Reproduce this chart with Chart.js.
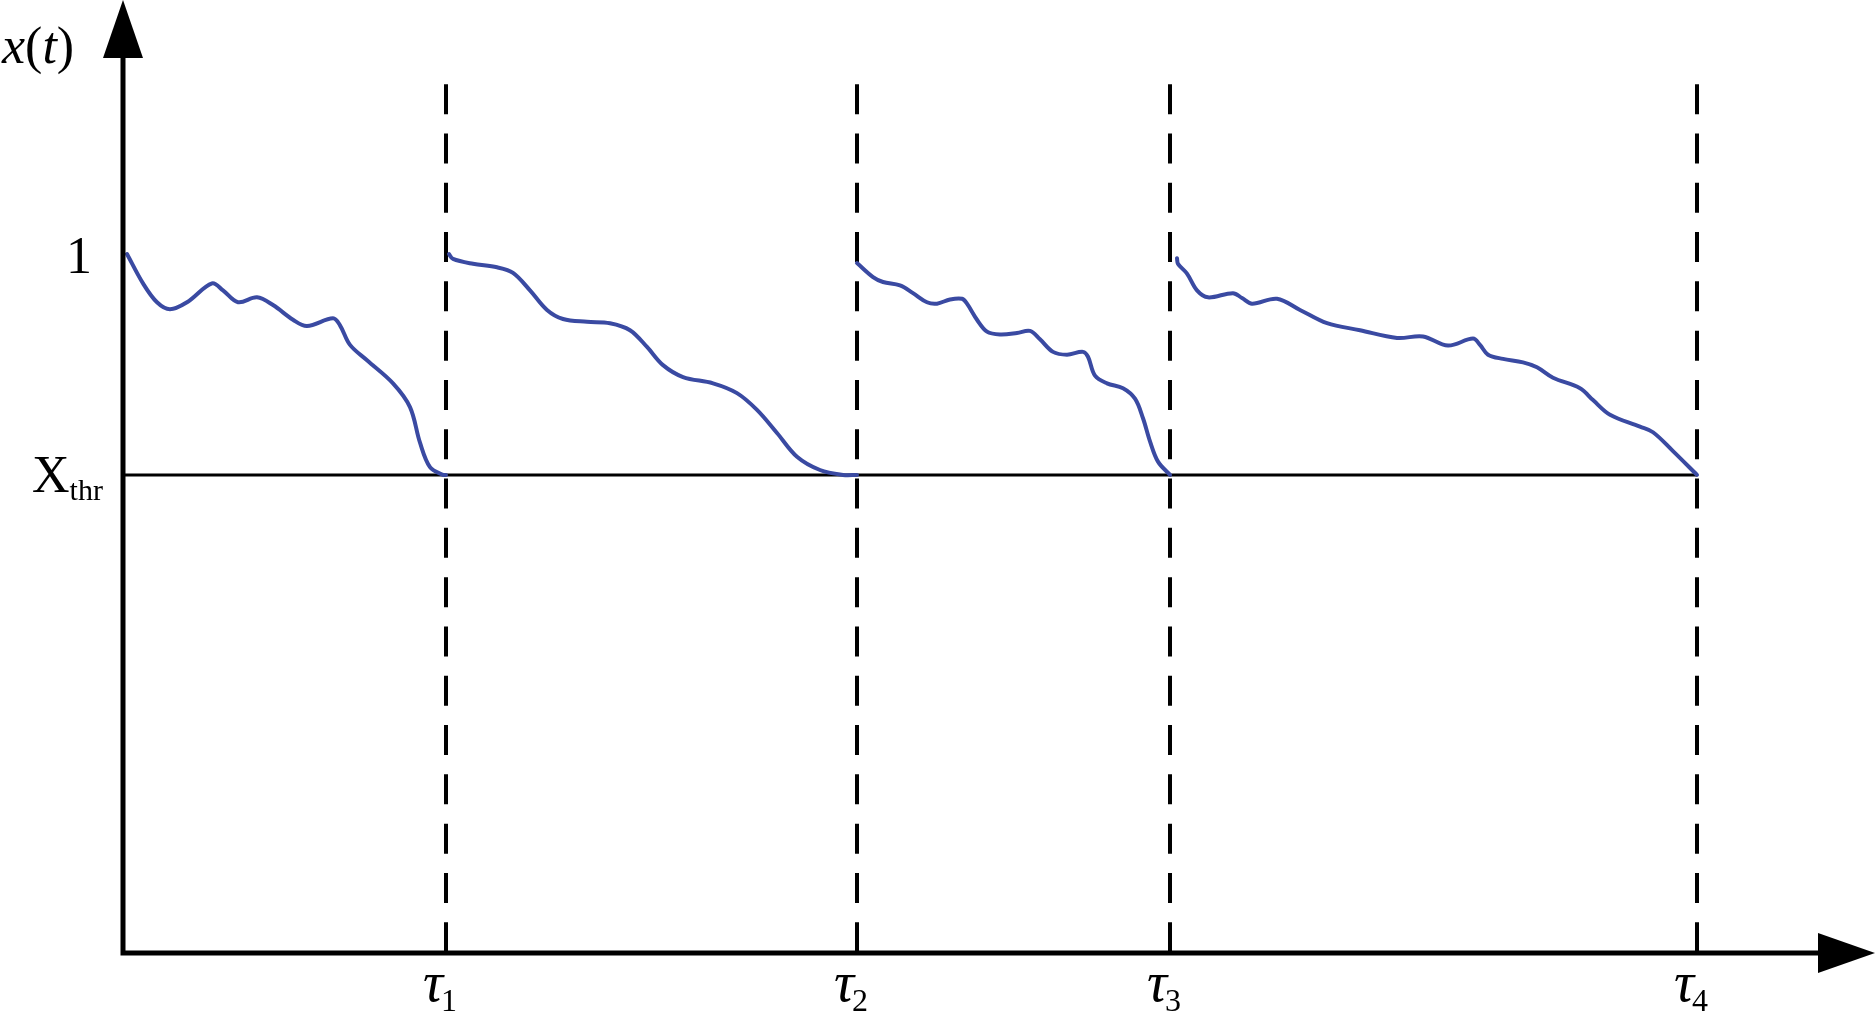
<!DOCTYPE html>
<html>
<head>
<meta charset="utf-8">
<script src="https://cdn.jsdelivr.net/npm/chart.js@4"></script>
<style>
  html, body { margin: 0; padding: 0; background: #fff; overflow: hidden; }
  #chart { display: block; }
</style>
</head>
<body>
<canvas id="chart" width="1876" height="1014"></canvas>
<script>
// Zeitpunkte tau_i, an denen x(t) die Schwelle erreicht
const tau = [3.23, 7.34, 10.47, 15.74];
const tauLabels = ["1", "2", "3", "4"];
const xThr = 0.684;   // Schwelle X_thr
const xOne = 1;       // Markierung "1"
const dashTop = 1.243;
const tMax = 17.5;
const xMax = 1.3634;

// Kurvenabschnitte (Zeit / Wert)
const seg1Time  = [0.04, 0.20, 0.34, 0.47, 0.64, 0.89, 1.00, 1.15, 1.34, 1.50, 1.70, 1.84, 2.10, 2.17, 2.27, 2.44, 2.70, 2.87, 2.97, 3.07, 3.20, 3.23];
const seg1Value = [1.000, 0.958, 0.931, 0.921, 0.931, 0.958, 0.948, 0.931, 0.938, 0.927, 0.906, 0.897, 0.908, 0.898, 0.870, 0.848, 0.815, 0.781, 0.730, 0.695, 0.684, 0.684];

const seg2Time  = [3.26, 3.30, 3.50, 3.74, 3.90, 4.07, 4.24, 4.40, 4.64, 4.87, 5.07, 5.24, 5.40, 5.60, 5.90, 6.14, 6.34, 6.54, 6.74, 6.97, 7.20, 7.34];
const seg2Value = [1.000, 0.993, 0.986, 0.981, 0.973, 0.948, 0.920, 0.907, 0.903, 0.901, 0.891, 0.867, 0.841, 0.824, 0.815, 0.801, 0.777, 0.744, 0.710, 0.691, 0.684, 0.684];

const seg3Time  = [7.34, 7.50, 7.60, 7.77, 7.90, 8.04, 8.14, 8.27, 8.39, 8.44, 8.54, 8.64, 8.77, 8.94, 9.07, 9.17, 9.30, 9.44, 9.60, 9.65, 9.72, 9.84, 10.00, 10.12, 10.20, 10.27, 10.35, 10.47];
const seg3Value = [0.987, 0.967, 0.960, 0.955, 0.944, 0.931, 0.929, 0.935, 0.936, 0.929, 0.906, 0.889, 0.885, 0.887, 0.890, 0.878, 0.860, 0.856, 0.860, 0.853, 0.826, 0.815, 0.808, 0.793, 0.765, 0.732, 0.703, 0.684];

const seg4Time  = [10.54, 10.55, 10.64, 10.74, 10.85, 11.10, 11.19, 11.29, 11.54, 11.77, 12.04, 12.37, 12.74, 13.00, 13.25, 13.50, 13.57, 13.65, 13.80, 14.00, 14.14, 14.30, 14.57, 14.70, 14.87, 15.17, 15.30, 15.50, 15.74];
const seg4Value = [0.994, 0.986, 0.972, 0.948, 0.938, 0.944, 0.937, 0.929, 0.936, 0.920, 0.901, 0.891, 0.880, 0.882, 0.869, 0.879, 0.870, 0.856, 0.850, 0.845, 0.838, 0.823, 0.808, 0.791, 0.770, 0.753, 0.745, 0.718, 0.684];

const curveColor = "#3a4aa2";
const serif = '"Liberation Serif", "DejaVu Serif", serif';

function toPoints(times, values) {
    return times.map((t, i) => ({ x: t, y: values[i] }));
}

function curveDataset(times, values) {
    return {
        data: toPoints(times, values),
        borderColor: curveColor,
        borderWidth: 4,
        pointRadius: 0,
        tension: 0.35,
        borderCapStyle: "round",
        borderJoinStyle: "round",
        order: 1
    };
}

const datasets = [];

// Schwellenlinie X_thr bis tau_4
datasets.push({
    data: [{ x: 0, y: xThr }, { x: tau[tau.length - 1], y: xThr }],
    borderColor: "#000",
    borderWidth: 3,
    pointRadius: 0,
    order: 3
});

// gestrichelte Senkrechten bei tau_i
tau.forEach(t => {
    datasets.push({
        data: [{ x: t, y: dashTop }, { x: t, y: 0 }],
        borderColor: "#000",
        borderWidth: 4,
        borderDash: [30, 19.3],
        pointRadius: 0,
        order: 2
    });
});

datasets.push(curveDataset(seg1Time, seg1Value));
datasets.push(curveDataset(seg2Time, seg2Value));
datasets.push(curveDataset(seg3Time, seg3Value));
datasets.push(curveDataset(seg4Time, seg4Value));

// Achsen mit Pfeilen und Beschriftungen selbst zeichnen
const axesPlugin = {
    id: "axesPlugin",
    afterDatasetsDraw(chart) {
        const ctx = chart.ctx;
        const xs = chart.scales.x;
        const ys = chart.scales.y;
        const area = chart.chartArea;
        const x0 = xs.getPixelForValue(0);
        const y0 = ys.getPixelForValue(0);

        ctx.save();
        ctx.strokeStyle = "#000";
        ctx.fillStyle = "#000";
        ctx.lineWidth = 5;
        ctx.lineCap = "butt";

        ctx.beginPath();
        ctx.moveTo(x0, area.top + 40);
        ctx.lineTo(x0, y0 + 2.5);
        ctx.moveTo(x0 - 2.5, y0);
        ctx.lineTo(area.right - 40, y0);
        ctx.stroke();

        // Pfeilspitze oben
        ctx.beginPath();
        ctx.moveTo(x0, area.top);
        ctx.lineTo(x0 - 20, area.top + 58);
        ctx.lineTo(x0 + 20, area.top + 58);
        ctx.closePath();
        ctx.fill();

        // Pfeilspitze rechts
        ctx.beginPath();
        ctx.moveTo(area.right + 2, y0);
        ctx.lineTo(area.right - 55, y0 - 20);
        ctx.lineTo(area.right - 55, y0 + 20);
        ctx.closePath();
        ctx.fill();

        // Beschriftungen
        ctx.textBaseline = "alphabetic";
        ctx.textAlign = "left";

        // x(t)
        let px = 2;
        const parts = [["x", "italic "], ["(", ""], ["t", "italic "], [")", ""]];
        parts.forEach(p => {
            ctx.font = p[1] + "52px " + serif;
            ctx.fillText(p[0], px, 63);
            px += ctx.measureText(p[0]).width;
        });

        // 1
        ctx.font = "52px " + serif;
        ctx.fillText("1", 66, ys.getPixelForValue(xOne) + 19);

        // X_thr
        const yThr = ys.getPixelForValue(xThr);
        ctx.font = "52px " + serif;
        ctx.fillText("X", 32, yThr + 17);
        const wX = ctx.measureText("X").width;
        ctx.font = "30px " + serif;
        ctx.fillText("thr", 32 + wX, yThr + 25);

        // tau_i
        tau.forEach((t, i) => {
            const tx = xs.getPixelForValue(t) - 23;
            ctx.font = "italic 56px " + serif;
            ctx.fillText("\u03C4", tx, 1001);
            const w = ctx.measureText("\u03C4").width;
            ctx.font = "32px " + serif;
            ctx.fillText(tauLabels[i], tx + w - 2, 1011);
        });

        ctx.restore();
    }
};

new Chart(document.getElementById("chart"), {
    type: "line",
    data: { datasets: datasets },
    options: {
        responsive: false,
        animation: false,
        events: [],
        layout: { padding: { left: 123, right: 3, top: 0, bottom: 61 } },
        plugins: { legend: { display: false }, tooltip: { enabled: false } },
        scales: {
            x: { type: "linear", min: 0, max: tMax, display: false },
            y: { type: "linear", min: 0, max: xMax, display: false }
        }
    },
    plugins: [axesPlugin]
});
</script>
</body>
</html>
